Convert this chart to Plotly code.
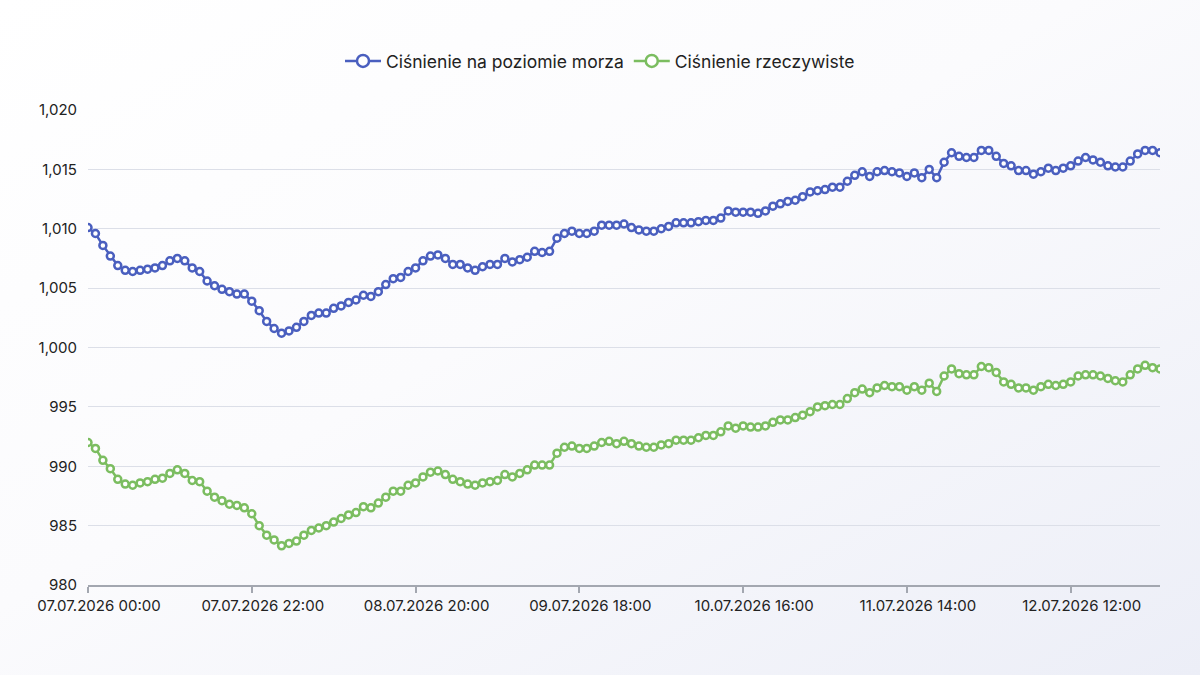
import base64
import pandas as pd
import plotly.graph_objects as go

start_time = "2026-07-07 00:00"
n_hours = 145
times = pd.date_range(start_time, periods=n_hours, freq="h")

sea_level = [
    1010.1, 1009.6, 1008.6, 1007.7, 1006.9, 1006.5, 1006.4, 1006.5, 1006.6, 1006.7,
    1006.9, 1007.3, 1007.5, 1007.3, 1006.7, 1006.4, 1005.6, 1005.2, 1004.9, 1004.7,
    1004.5, 1004.5, 1003.9, 1003.1, 1002.2, 1001.6, 1001.2, 1001.4, 1001.7, 1002.2,
    1002.7, 1002.9, 1002.9, 1003.3, 1003.5, 1003.8, 1004.0, 1004.4, 1004.3, 1004.7,
    1005.3, 1005.8, 1005.9, 1006.4, 1006.7, 1007.3, 1007.7, 1007.8, 1007.5, 1007.0,
    1007.0, 1006.7, 1006.5, 1006.8, 1007.0, 1007.0, 1007.5, 1007.2, 1007.4, 1007.6,
    1008.1, 1008.0, 1008.1, 1009.2, 1009.6, 1009.8, 1009.6, 1009.6, 1009.8, 1010.3,
    1010.3, 1010.3, 1010.4, 1010.1, 1009.9, 1009.8, 1009.8, 1010.0, 1010.2, 1010.5,
    1010.5, 1010.5, 1010.6, 1010.7, 1010.7, 1010.9, 1011.5, 1011.4, 1011.4, 1011.4,
    1011.3, 1011.5, 1011.9, 1012.1, 1012.3, 1012.4, 1012.7, 1013.1, 1013.2, 1013.3,
    1013.5, 1013.5, 1014.0, 1014.5, 1014.8, 1014.4, 1014.8, 1014.9, 1014.8, 1014.7,
    1014.4, 1014.7, 1014.3, 1015.0, 1014.3, 1015.6, 1016.4, 1016.1, 1016.0, 1016.0,
    1016.6, 1016.6, 1016.1, 1015.5, 1015.3, 1014.9, 1014.9, 1014.6, 1014.8, 1015.1,
    1014.9, 1015.1, 1015.3, 1015.7, 1016.0, 1015.8, 1015.6, 1015.3, 1015.2, 1015.2,
    1015.7, 1016.3, 1016.6, 1016.6, 1016.4,
]

actual = [
    992.0, 991.5, 990.5, 989.8, 988.9, 988.5, 988.4, 988.6, 988.7, 988.9,
    989.0, 989.4, 989.7, 989.4, 988.8, 988.7, 987.9, 987.4, 987.1, 986.8,
    986.7, 986.5, 986.0, 985.0, 984.2, 983.8, 983.3, 983.5, 983.7, 984.2,
    984.6, 984.8, 985.0, 985.3, 985.6, 985.9, 986.1, 986.6, 986.5, 986.9,
    987.4, 987.9, 987.9, 988.4, 988.6, 989.1, 989.5, 989.6, 989.3, 988.9,
    988.7, 988.5, 988.4, 988.6, 988.7, 988.8, 989.3, 989.1, 989.4, 989.7,
    990.1, 990.1, 990.1, 991.1, 991.6, 991.7, 991.5, 991.5, 991.7, 992.0,
    992.1, 991.9, 992.1, 991.9, 991.7, 991.6, 991.6, 991.8, 991.9, 992.2,
    992.2, 992.2, 992.4, 992.6, 992.6, 992.9, 993.4, 993.2, 993.4, 993.3,
    993.3, 993.4, 993.7, 993.9, 993.9, 994.1, 994.3, 994.6, 995.0, 995.1,
    995.2, 995.2, 995.7, 996.2, 996.5, 996.2, 996.6, 996.8, 996.7, 996.7,
    996.4, 996.7, 996.4, 997.0, 996.3, 997.6, 998.2, 997.8, 997.7, 997.7,
    998.4, 998.3, 997.9, 997.1, 996.9, 996.6, 996.6, 996.4, 996.7, 996.9,
    996.8, 996.9, 997.1, 997.6, 997.7, 997.7, 997.6, 997.4, 997.2, 997.1,
    997.7, 998.2, 998.5, 998.3, 998.2,
]

series_names = ["Ciśnienie na poziomie morza", "Ciśnienie rzeczywiste"]
series_colors = ["#4a5fbf", "#7bbd60"]
y_ticks = [980, 985, 990, 995, 1000, 1005, 1010, 1015, 1020]

W, H = 1200, 675
ML, MR, MT, MB = 88, 40, 110, 90
pw, ph = W - ML - MR, H - MT - MB

fig = go.Figure()
for name, vals, col in zip(series_names, [sea_level, actual], series_colors):
    fig.add_trace(go.Scatter(
        x=times, y=vals, name=name, mode="lines+markers",
        legendgroup=name, showlegend=False,
        line=dict(color=col, width=2.5),
        marker=dict(symbol="circle", size=7, color="white",
                    line=dict(color=col, width=2.5)),
    ))
    # legend entry with a larger symbol (no data drawn)
    fig.add_trace(go.Scatter(
        x=[None], y=[None], name=name, mode="lines+markers",
        legendgroup=name, showlegend=True, hoverinfo="skip",
        line=dict(color=col, width=2.5),
        marker=dict(symbol="circle", size=12, color="white",
                    line=dict(color=col, width=2.5)),
    ))

svg = (
    '<svg xmlns="http://www.w3.org/2000/svg" width="1200" height="675" preserveAspectRatio="none">'
    '<defs><linearGradient id="g" x1="0" y1="0" x2="1" y2="1">'
    '<stop offset="0" stop-color="#ffffff"/><stop offset="0.45" stop-color="#fbfbfd"/>'
    '<stop offset="1" stop-color="#eceef7"/></linearGradient></defs>'
    '<rect width="1200" height="675" fill="url(#g)"/></svg>'
)
src = "data:image/svg+xml;base64," + base64.b64encode(svg.encode()).decode()

fig.update_layout(
    width=W, height=H,
    margin=dict(l=ML, r=MR, t=MT, b=MB),
    paper_bgcolor="#f7f8fb",
    plot_bgcolor="rgba(0,0,0,0)",
    font=dict(family="Inter, Noto Sans, sans-serif", color="#222222", size=15),
    showlegend=True,
    legend=dict(orientation="h", x=(W / 2 - ML) / pw, xanchor="center",
                y=1 + 49 / ph, yanchor="middle",
                font=dict(size=17.5, color="#222"), bgcolor="rgba(0,0,0,0)",
                itemwidth=36),
    images=[dict(source=src, xref="paper", yref="paper",
                 x=-ML / pw, y=1 + MT / ph, sizex=W / pw, sizey=H / ph,
                 xanchor="left", yanchor="top", sizing="stretch", layer="below")],
    hovermode="x unified",
)

fig.update_xaxes(
    type="date",
    range=[times[0], times[-1]],
    tick0=start_time, dtick=22 * 3600 * 1000,
    tickformat="%d.%m.%Y %H:%M",
    showgrid=False, zeroline=False,
    showline=True, linecolor="#a3a7b0", linewidth=1.5,
    ticks="outside", ticklen=6, tickcolor="#a3a7b0", tickwidth=1.5,
    ticklabelshift=11,
    tickfont=dict(size=15, color="#222222"),
)
fig.update_yaxes(
    range=[980, 1020], tickvals=y_ticks,
    ticktext=[f"{v:,}" for v in y_ticks],
    showgrid=True, gridcolor="#dcdfe8", gridwidth=1,
    zeroline=False, showline=False, ticks="",
    ticklabelstandoff=10,
    tickfont=dict(size=15, color="#222222"),
)

fig.write_html(
    "out.html",
    config={"displayModeBar": False},
    post_script="document.body.style.margin='0';document.body.style.overflow='hidden';",
)
